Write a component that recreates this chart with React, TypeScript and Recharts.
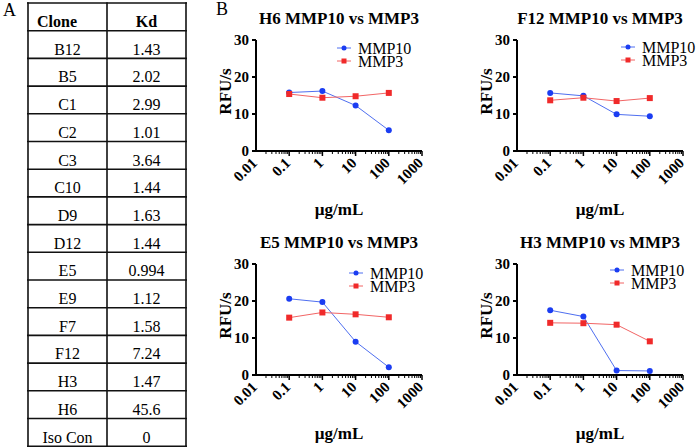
import React from 'react';
import { LineChart, Line, XAxis, YAxis, Legend, Label } from 'recharts';

// ---------- data ----------
const concentrations = [0.1, 1, 10, 100];

const h6Mmp10 = [15.8, 16.2, 12.3, 5.6];
const h6Mmp3 = [15.4, 14.4, 14.8, 15.7];
const f12Mmp10 = [15.7, 14.9, 9.9, 9.4];
const f12Mmp3 = [13.7, 14.4, 13.5, 14.3];
const e5Mmp10 = [20.6, 19.7, 9.0, 2.1];
const e5Mmp3 = [15.5, 16.9, 16.4, 15.6];
const h3Mmp10 = [17.5, 15.8, 1.2, 1.1];
const h3Mmp3 = [14.1, 14.0, 13.6, 9.1];

const clones = ['B12', 'B5', 'C1', 'C2', 'C3', 'C10', 'D9', 'D12', 'E5', 'E9', 'F7', 'F12', 'H3', 'H6', 'Iso Con'];
const kdValues = ['1.43', '2.02', '2.99', '1.01', '3.64', '1.44', '1.63', '1.44', '0.994', '1.12', '1.58', '7.24', '1.47', '45.6', '0'];

const xMajorTicks = [0.01, 0.1, 1, 10, 100, 1000];
const xTickLabels = ['0.01', '0.1', '1', '10', '100', '1000'];
const minorMultipliers = [2, 3, 4, 5, 6, 7, 8, 9];
const yTicks = [0, 10, 20, 30];

const seriesNames = { mmp10: 'MMP10', mmp3: 'MMP3' };

// ---------- styles ----------
const SERIF = "'Liberation Serif', 'Times New Roman', serif";
const BLUE_DOT = '#1b3df2';
const BLUE_LINE = '#4f6ff0';
const RED_DOT = '#f02a2a';
const RED_LINE = '#f26565';
const LEG_ROW = 13;

const allXTicks: number[] = (() => {
  const t: number[] = [];
  for (let i = 0; i < xMajorTicks.length; i++) {
    t.push(xMajorTicks[i]);
    if (i < xMajorTicks.length - 1) {
      minorMultipliers.forEach((m) => t.push(+(m * xMajorTicks[i]).toPrecision(6)));
    }
  }
  return t;
})();

function buildRows(mmp10: number[], mmp3: number[]) {
  return concentrations.map((c, i) => ({ conc: c, mmp10: mmp10[i], mmp3: mmp3[i] }));
}

const XTick = (props: any) => {
  const { x, y, payload } = props;
  const v = payload.value;
  const idx = xMajorTicks.findIndex((t) => Math.abs(t - v) / t < 1e-6);
  if (idx < 0) {
    return <line x1={x} y1={y} x2={x} y2={y + 3} stroke="#000" strokeWidth={1} />;
  }
  const ax = x + 2;
  const ay = y + 13;
  return (
    <g>
      {idx > 0 && <line x1={x} y1={y} x2={x} y2={y + 5} stroke="#000" strokeWidth={1.5} />}
      <text
        x={ax}
        y={ay}
        textAnchor="end"
        transform={`rotate(-45 ${ax} ${ay})`}
        fontFamily={SERIF}
        fontWeight="bold"
        fontSize={15}
        fill="#000"
      >
        {xTickLabels[idx]}
      </text>
    </g>
  );
};

const CircleDot = (p: any) => {
  if (p.cx == null || p.cy == null) return <g key={p.index} />;
  return <circle key={`c${p.index}`} cx={p.cx} cy={p.cy} r={3} fill={BLUE_DOT} stroke="none" />;
};
const SquareDot = (p: any) => {
  if (p.cx == null || p.cy == null) return <g key={p.index} />;
  return <rect key={`s${p.index}`} x={p.cx - 3} y={p.cy - 3} width={6} height={6} fill={RED_DOT} stroke="none" />;
};

const renderLegend = (props: any) => {
  const { payload } = props;
  return (
    <div style={{ fontFamily: SERIF, fontSize: 16, color: '#000' }}>
      {(payload || []).map((entry: any) => {
        const isBlue = entry.dataKey === 'mmp10';
        return (
          <div key={entry.value} style={{ display: 'flex', alignItems: 'center', height: LEG_ROW, whiteSpace: 'nowrap' }}>
            <svg width={21} height={10} style={{ flex: 'none' }}>
              <line x1={0} y1={5} x2={14} y2={5} stroke={isBlue ? BLUE_LINE : RED_LINE} strokeWidth={1} />
              {isBlue ? (
                <circle cx={7} cy={5} r={2.5} fill={BLUE_DOT} />
              ) : (
                <rect x={4.5} y={2.5} width={5} height={5} fill={RED_DOT} />
              )}
            </svg>
            <span style={{ lineHeight: `${LEG_ROW}px` }}>{entry.value}</span>
          </div>
        );
      })}
    </div>
  );
};

const W = 240;
const H = 220;
const MT = 40;
const YW = 56;
const MR = 18;
const PLOT_H = 111;

type PanelProps = {
  left: number;
  top: number;
  title: string;
  mmp10: number[];
  mmp3: number[];
  legendX: number;
  legendY: number;
};

function Panel({ left, top, mmp10, mmp3, legendX, legendY }: PanelProps) {
  const data = buildRows(mmp10, mmp3);
  return (
    <div style={{ position: 'absolute', left, top, width: W, height: H }}>
      <LineChart width={W} height={H} data={data} margin={{ top: MT, right: MR, left: 0, bottom: 0 }}>
        <XAxis
          dataKey="conc"
          type="number"
          scale="log"
          domain={[0.01, 1000]}
          ticks={allXTicks}
          interval={0}
          allowDataOverflow
          height={H - MT - PLOT_H}
          axisLine={{ stroke: '#000', strokeWidth: 2 }}
          tickLine={false}
          tickSize={0}
          tickMargin={0}
          tick={<XTick />}
        >
          <Label
            content={(p: any) => {
              const vb = p.viewBox;
              return (
                <text
                  x={vb.x + vb.width / 2}
                  y={vb.y + 64}
                  textAnchor="middle"
                  fontFamily={SERIF}
                  fontWeight="bold"
                  fontSize={17}
                  fill="#000"
                >
                  µg/mL
                </text>
              );
            }}
          />
        </XAxis>
        <YAxis
          type="number"
          domain={[0, 30]}
          ticks={yTicks}
          interval={0}
          width={YW}
          axisLine={{ stroke: '#000', strokeWidth: 2 }}
          tickLine={{ stroke: '#000', strokeWidth: 2 }}
          tickSize={4}
          tickMargin={3}
          tick={{ fill: '#000', fontFamily: SERIF, fontWeight: 'bold', fontSize: 15 }}
        >
          <Label
            content={(p: any) => {
              const vb = p.viewBox;
              const cx = vb.x + vb.width - 31;
              const cy = vb.y + vb.height / 2 - 4;
              return (
                <text
                  x={cx}
                  y={cy}
                  textAnchor="middle"
                  dominantBaseline="central"
                  transform={`rotate(-90 ${cx} ${cy})`}
                  fontFamily={SERIF}
                  fontWeight="bold"
                  fontSize={17}
                  fill="#000"
                >
                  RFU/s
                </text>
              );
            }}
          />
        </YAxis>
        <Legend
          layout="vertical"
          align="center"
          verticalAlign="middle"
          content={renderLegend}
          wrapperStyle={{ left: YW + legendX, top: MT + legendY - LEG_ROW / 2, width: 'auto', height: 'auto' }}
        />
        <Line
          dataKey="mmp10"
          name={seriesNames.mmp10}
          type="linear"
          stroke={BLUE_LINE}
          strokeWidth={1}
          dot={CircleDot}
          activeDot={false}
          isAnimationActive={false}
        />
        <Line
          dataKey="mmp3"
          name={seriesNames.mmp3}
          type="linear"
          stroke={RED_LINE}
          strokeWidth={1}
          dot={SquareDot}
          activeDot={false}
          isAnimationActive={false}
        />
      </LineChart>
    </div>
  );
}

const panels: PanelProps[] = [
  { left: 200, top: 0, title: 'H6 MMP10 vs MMP3', mmp10: h6Mmp10, mmp3: h6Mmp3, legendX: 81, legendY: 8 },
  { left: 461, top: 0, title: 'F12 MMP10 vs MMP3', mmp10: f12Mmp10, mmp3: f12Mmp3, legendX: 104, legendY: 7 },
  { left: 200, top: 224, title: 'E5 MMP10 vs MMP3', mmp10: e5Mmp10, mmp3: e5Mmp3, legendX: 93, legendY: 9 },
  { left: 461, top: 224, title: 'H3 MMP10 vs MMP3', mmp10: h3Mmp10, mmp3: h3Mmp3, legendX: 93, legendY: 6 },
];

const TABLE_TOP = 3;
const ROW_H = 27.7;
const COL_X = [28, 107, 186];

function Background() {
  const rows = clones.length + 1;
  return (
    <svg width={700} height={448} style={{ position: 'absolute', left: 0, top: 0 }}>
      <rect x={0} y={0} width={700} height={448} fill="#fff" />
      <text x={3} y={16} fontFamily={SERIF} fontSize={18} fill="#000">A</text>
      <text x={216} y={15} fontFamily={SERIF} fontSize={18} fill="#000">B</text>
      {Array.from({ length: rows + 1 }, (_, i) => (
        <line
          key={`h${i}`}
          x1={COL_X[0] - 1}
          x2={COL_X[2] + 1}
          y1={TABLE_TOP + i * ROW_H}
          y2={TABLE_TOP + i * ROW_H}
          stroke="#111"
          strokeWidth={1.6}
        />
      ))}
      {COL_X.map((x, i) => (
        <line key={`v${i}`} x1={x} x2={x} y1={TABLE_TOP - 0.8} y2={TABLE_TOP + rows * ROW_H + 0.8} stroke="#111" strokeWidth={1.6} />
      ))}
      <text x={37} y={TABLE_TOP + 24} fontFamily={SERIF} fontWeight="bold" fontSize={16} fill="#000">Clone</text>
      <text x={(COL_X[1] + COL_X[2]) / 2} y={TABLE_TOP + 24} textAnchor="middle" fontFamily={SERIF} fontWeight="bold" fontSize={16} fill="#000">Kd</text>
      {clones.map((c, i) => (
        <g key={c}>
          <text x={(COL_X[0] + COL_X[1]) / 2} y={TABLE_TOP + (i + 1) * ROW_H + 24} textAnchor="middle" fontFamily={SERIF} fontSize={16} fill="#000">{c}</text>
          <text x={(COL_X[1] + COL_X[2]) / 2} y={TABLE_TOP + (i + 1) * ROW_H + 24} textAnchor="middle" fontFamily={SERIF} fontSize={16} fill="#000">{kdValues[i]}</text>
        </g>
      ))}
      {panels.map((p) => (
        <text
          key={p.title}
          x={p.left + YW + (W - YW - MR) / 2}
          y={p.top + 24}
          textAnchor="middle"
          fontFamily={SERIF}
          fontWeight="bold"
          fontSize={17}
          fill="#000"
        >
          {p.title}
        </text>
      ))}
    </svg>
  );
}

export default function App() {
  return (
    <div style={{ position: 'absolute', left: 0, top: 0, width: 700, height: 448, overflow: 'hidden', background: '#fff' }}>
      <Background />
      {panels.map((p) => (
        <Panel key={p.title} {...p} />
      ))}
    </div>
  );
}
